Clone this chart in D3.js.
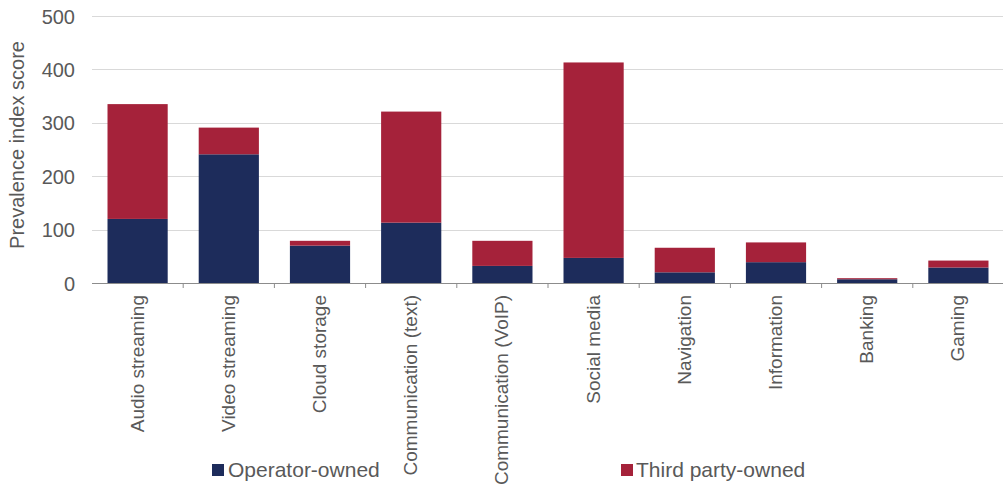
<!DOCTYPE html>
<html><head><meta charset="utf-8">
<script src="https://cdn.jsdelivr.net/npm/d3@7"></script>
<style>body{margin:0;background:#fff}svg{display:block}text{font-family:"Liberation Sans",Arial,sans-serif}</style>
</head><body>
<script>
const categories = ["Audio streaming","Video streaming","Cloud storage","Communication (text)","Communication (VoIP)","Social media","Navigation","Information","Banking","Gaming"];
const operatorOwned = [120,241,70,113,32,47,20,39,7,29];
const thirdPartyOwned = [215,50,9,208,47,366,46,37,2,13];
const seriesNames = ["Operator-owned","Third party-owned"];
const yTicks = [0,100,200,300,400,500];

const W=1003,H=486;
const m={left:92,right:0,top:16,bottom:203};
const svg=d3.select("body").append("svg").attr("width",W).attr("height",H);
const x=d3.scaleBand().domain(categories).range([m.left,1004]).paddingInner(0.34).paddingOuter(0.17);
const y=d3.scaleLinear().domain([0,500]).range([283,16]);
const colors=["#1d2c5b","#a5223a"];

// grid
svg.append("g").selectAll("line").data(yTicks.slice(1)).join("line")
 .attr("x1",m.left).attr("x2",W).attr("y1",d=>Math.round(y(d))+0.5).attr("y2",d=>Math.round(y(d))+0.5)
 .attr("stroke","#d9d9d9").attr("stroke-width",1);

const data=categories.map((c,i)=>({cat:c,[seriesNames[0]]:operatorOwned[i],[seriesNames[1]]:thirdPartyOwned[i]}));
const stack=d3.stack().keys(seriesNames)(data);
svg.append("g").selectAll("g").data(stack).join("g").attr("fill",(d,i)=>colors[i])
 .selectAll("rect").data(d=>d).join("rect")
 .attr("x",d=>x(d.data.cat)).attr("width",x.bandwidth())
 .attr("y",d=>y(d[1])).attr("height",d=>y(d[0])-y(d[1]));

// x axis
const xa=svg.append("g").attr("transform","translate(0,283)")
 .call(d3.axisBottom(x).tickSize(0).tickFormat(""));
xa.select(".domain").attr("stroke","#8c8c8c").attr("d","M92,0.5H1004");
const step=x.step();
svg.append("g").selectAll("line").data(d3.range(1,11)).join("line")
 .attr("x1",i=>m.left+i*step).attr("x2",i=>m.left+i*step).attr("y1",283).attr("y2",288)
 .attr("stroke","#8c8c8c");
svg.append("g").selectAll("text").data(categories).join("text")
 .attr("transform",d=>`translate(${x(d)+x.bandwidth()/2+6},295) rotate(-90)`)
 .attr("text-anchor","end").attr("font-size",19).attr("fill","#595959").text(d=>d);

// y axis
const ya=svg.append("g").attr("transform","translate(75,0)")
 .call(d3.axisLeft(y).tickValues(yTicks).tickSize(0).tickPadding(0));
ya.select(".domain").remove();
ya.selectAll("text").attr("font-size",20).attr("fill","#595959").attr("font-family","Liberation Sans, Arial, sans-serif").attr("dy","0.35em");

svg.append("text").attr("transform","translate(24,145) rotate(-90)").attr("text-anchor","middle")
 .attr("font-size",20).attr("fill","#595959").text("Prevalence index score");

// legend
const lg=[{x:212,tx:228},{x:621,tx:636}];
seriesNames.forEach((s,i)=>{
 svg.append("rect").attr("x",lg[i].x).attr("y",464).attr("width",12).attr("height",12).attr("fill",colors[i]);
 svg.append("text").attr("x",lg[i].tx).attr("y",477).attr("font-size",21).attr("fill","#595959").text(s);
});
</script>
</body></html>
